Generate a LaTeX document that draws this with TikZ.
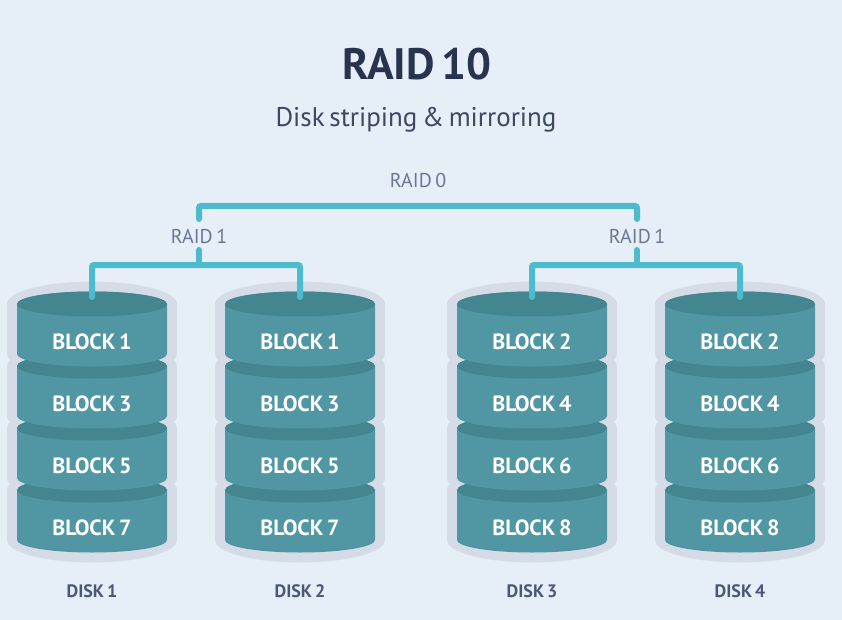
\documentclass[tikz,border=0pt]{standalone}
\usepackage{fontspec}
\setmainfont[WordSpace=0.65]{PT Sans}
\definecolor{bg}{HTML}{E6EEF7}
\definecolor{halo}{HTML}{D5DCE8}
\definecolor{body}{HTML}{5096A3}
\definecolor{topc}{HTML}{448690}
\definecolor{linec}{HTML}{4DBBCE}
\definecolor{titlec}{HTML}{283350}
\definecolor{subc}{HTML}{3D4862}
\definecolor{raidc}{HTML}{6A7891}
\definecolor{diskc}{HTML}{4A5878}
\tikzset{
  blocklabel/.style={text=white, font=\bfseries\fontsize{22}{22}\selectfont, inner sep=0pt},
  disklabel/.style={text=diskc, font=\bfseries\fontsize{18}{18}\selectfont, inner sep=0pt},
  raidlabel/.style={text=raidc, font=\fontsize{20}{20}\selectfont, inner sep=0pt},
  bracket/.style={draw=linec, line width=6pt, rounded corners=2pt, line cap=round},
}
% #1 = cx, #2 = cy (top ellipse centre), #3 = fill, #4 = rx, #5 = ry
\newcommand{\segshape}[5]{%
  \fill[#3] (#1-#4,#2) -- (#1-#4,#2+50)
    arc[start angle=180, end angle=360, x radius=#4pt, y radius=#5pt]
    -- (#1+#4,#2)
    arc[start angle=0, end angle=180, x radius=#4pt, y radius=#5pt] -- cycle;}
\newcommand{\diskstack}[6]{% #1 cx, #2 name, #3..#6 block numbers
  \foreach \cy in {304,366,428,490} {\segshape{#1}{\cy}{halo}{85}{22.5}}
  \foreach \cy/\bn [count=\k] in {490/#6,428/#5,366/#4,304/#3} {
    \segshape{#1}{\cy}{body}{75}{12.5}
    \fill[topc] (#1,\cy) ellipse[x radius=75pt, y radius=12.5pt];
    \node[blocklabel] (#2b\k) at (#1,\cy+38) {BLOCK \bn};
  }
  \coordinate (#2top) at (#1,297);
}
\begin{document}
\begin{tikzpicture}[x=1pt,y=-1pt]
\fill[bg] (0,0) rectangle (842,620);
\useasboundingbox (0,0) rectangle (842,620);

\node[text=titlec, font=\bfseries\fontsize{44}{44}\selectfont, inner sep=0pt] (title) at (417,64) {RAID 10};
\node[text=subc, font=\fontsize{27}{27}\selectfont, inner sep=0pt] (subtitle) at (416,120) {Disk striping \& mirroring};

\diskstack{92}{d1}{1}{3}{5}{7}
\diskstack{300}{d2}{1}{3}{5}{7}
\diskstack{532}{d3}{2}{4}{6}{8}
\diskstack{740}{d4}{2}{4}{6}{8}

\node[disklabel] (disk1) at (92,591) {DISK 1};
\node[disklabel] (disk2) at (300,591) {DISK 2};
\node[disklabel] (disk3) at (532,591) {DISK 3};
\node[disklabel] (disk4) at (740,591) {DISK 4};

\node[raidlabel] (raid0) at (418,181) {RAID 0};
\node[raidlabel] (raid1a) at (199,236) {RAID 1};
\node[raidlabel] (raid1b) at (637,236) {RAID 1};

% RAID 0 bracket
\coordinate (r0l) at (199,219);
\coordinate (r0r) at (637,219);
\draw[bracket] (r0l) -- (199,206) -- (637,206) -- (r0r);
% RAID 1 brackets
\coordinate (r1al) at (199,250);
\coordinate (r1bl) at (637,250);
\draw[bracket] (r1al) -- (199,265);
\draw[bracket] (d1top) -- (92,265) -- (300,265) -- (d2top);
\draw[bracket] (r1bl) -- (637,265);
\draw[bracket] (d3top) -- (532,265) -- (740,265) -- (d4top);
\end{tikzpicture}
\end{document}
